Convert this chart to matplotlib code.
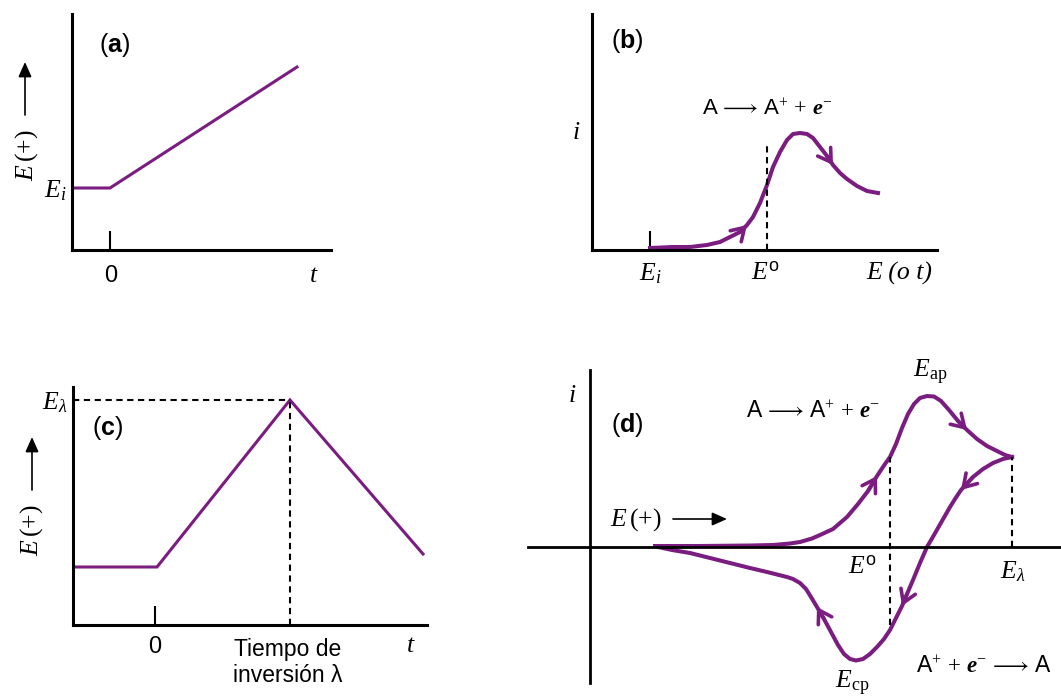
import matplotlib
matplotlib.use('Agg')
import matplotlib.pyplot as plt

# fuentes: E, i, t en serif italica; texto en sans
plt.rcParams['mathtext.fontset'] = 'custom'
plt.rcParams['mathtext.rm'] = 'Liberation Serif'
plt.rcParams['mathtext.it'] = 'Liberation Serif:italic'
plt.rcParams['mathtext.bf'] = 'Liberation Sans:bold'
plt.rcParams['mathtext.sf'] = 'Liberation Sans'
plt.rcParams['mathtext.bfit'] = 'Liberation Serif:italic:bold'
plt.rcParams['mathtext.fallback'] = 'stix'

W, H = 1061, 698
PURPLE = '#7b1c80'
SANS = 'Liberation Sans'
SERIF = 'Liberation Serif'

# (a) barrido lineal de potencial
t_a = [-3.8, 0, 18.7]
E_a = [6.2, 6.2, 18.3]

# (b) voltamperograma de barrido lineal
E_b = [5.8, 8.1, 9.8, 11.5, 12.8, 13.8, 14.8, 15.5, 16.1, 16.8, 17.5, 18.1,
       18.8, 19.5, 20.1, 20.8, 21.5, 22.1, 22.8, 23.5, 24.1, 24.8, 25.5, 26.5,
       27.5, 28.6]
i_b = [0.2, 0.3, 0.3, 0.5, 0.8, 1.3, 1.8, 2.5, 3.3, 4.7, 6.5, 8.3,
       9.8, 11.0, 11.6, 11.7, 11.6, 11.2, 10.3, 9.4, 8.5, 7.7, 7.1, 6.4,
       5.9, 5.7]
Ei_b = 5.8
E0_b = 17.5
arrows_b = [7, 20]

# (c) barrido triangular
t_c = [-8.2, 0.2, 13.5, 26.8]
E_c = [5.8, 5.8, 22.5, 7.1]
t_lambda = 13.5
E_lambda = 22.5

# (d) voltamperograma ciclico
E_fwd = [6.5, 11.0, 16.0, 18.3, 20.0, 21.0, 22.2, 23.0, 24.3, 25.7, 26.8,
         27.8, 28.7, 29.5, 30.0, 30.6, 31.2, 31.8, 32.4, 33.0, 33.7, 34.4,
         35.1, 35.9, 36.8, 37.7, 38.7, 39.7, 40.7, 41.5, 42.2]
i_fwd = [0.1, 0.1, 0.15, 0.2, 0.35, 0.5, 0.85, 1.2, 1.8, 3.0, 4.3,
         5.6, 7.1, 8.3, 9.0, 10.3, 11.9, 13.3, 14.3, 14.9, 15.1, 15.05,
         14.6, 13.7, 12.6, 11.7, 10.8, 10.1, 9.6, 9.2, 9.0]
E_rev = [42.2, 41.3, 40.3, 39.3, 38.3, 37.1, 36.5, 36.0, 35.2, 34.4, 33.7,
         33.0, 32.3, 31.7, 31.2, 30.6, 30.0, 29.4, 28.7, 28.0, 27.3, 26.6,
         26.0, 25.4, 24.8, 24.1, 23.4, 22.7, 22.1, 21.6, 21.0, 20.3, 19.7,
         17.7, 16.0, 14.0, 12.0, 10.0, 8.2, 6.8]
i_rev = [9.0, 8.8, 8.4, 7.8, 7.0, 5.7, 4.8, 4.0, 2.6, 1.2, 0.0,
         -1.6, -3.3, -4.7, -5.9, -7.1, -8.3, -9.2, -10.0, -10.7, -11.2, -11.35,
         -11.2, -10.7, -9.8, -8.5, -7.2, -6.0, -5.0, -4.2, -3.6, -3.2, -3.0,
         -2.5, -2.1, -1.6, -1.1, -0.6, -0.3, 0.0]
arrows_fwd = [12, 25]
arrows_rev = [5, 14, 27]
E0_d = 30.0
i_E0_top, i_E0_bot = 9.0, -7.8
Elam_d = 42.2

REACT_OX = r'$\mathsf{A}\,\longrightarrow\,\mathsf{A}^{+}\,+\,\mathbfit{e}^{-}$'
REACT_RED = r'$\mathsf{A}^{+}\,+\,\mathbfit{e}^{-}\,\longrightarrow\,\mathsf{A}$'

fig = plt.figure(figsize=(W / 100, H / 100), dpi=100)


def px_axes(x0, y0, x1, y1):
    ax = fig.add_axes([x0 / W, 1 - y1 / H, (x1 - x0) / W, (y1 - y0) / H])
    ax.patch.set_alpha(0)
    for s in ['top', 'right']:
        ax.spines[s].set_visible(False)
    for s in ['left', 'bottom']:
        ax.spines[s].set_linewidth(2.2)
    ax.set_yticks([])
    ax.set_xticks([])
    return ax


def label(x, y, s, size=18.5, **kw):
    kw.setdefault('ha', 'center')
    kw.setdefault('va', 'baseline')
    fig.text(x / W, 1 - y / H, s, fontsize=size, **kw)


def chevrons(ax, xs, ys, idx):
    for k in idx:
        ax.annotate('', xy=(xs[k], ys[k]), xytext=(xs[k - 1], ys[k - 1]),
                    arrowprops=dict(arrowstyle='->,head_length=0.45,head_width=0.28',
                                    color=PURPLE, lw=2.6, shrinkA=0, shrinkB=0,
                                    mutation_scale=20))


def y_arrow(x, y0, y1):
    fig.add_artist(matplotlib.patches.FancyArrowPatch(
        (x / W, 1 - y0 / H), (x / W, 1 - y1 / H), transform=fig.transFigure,
        arrowstyle='-|>,head_length=0.45,head_width=0.2', mutation_scale=20,
        color='black', lw=1.2, shrinkA=0, shrinkB=0))


# ---------- (a) ----------
ax = px_axes(72, 14, 331, 250)
ax.set_xlim(-3.8, 22.1)
ax.set_ylim(0, 23.6)
ax.plot(t_a, E_a, color=PURPLE, lw=2.2, solid_joinstyle='miter')
ax.set_xticks([0])
ax.tick_params(axis='x', direction='in', length=13.7, width=1.5, labelbottom=False)
label(115, 52, r'$\mathsf{(}\mathbf{a}\mathsf{)}$', size=18)
label(66, 197, r'$E_i$', ha='right')
label(111, 282, '0', size=17, family=SANS)
label(313, 282, 't', family=SERIF, style='italic')
label(27, 155, r'$E\,(+)$', rotation=90, va='center', rotation_mode='anchor')
y_arrow(25, 115, 62)

# ---------- (b) ----------
ax = px_axes(592, 14, 937, 250)
ax.set_xlim(0, 34.5)
ax.set_ylim(0, 23.6)
ax.plot(E_b, i_b, color=PURPLE, lw=2.9, solid_joinstyle='round')
chevrons(ax, E_b, i_b, arrows_b)
ax.plot([E0_b, E0_b], [0, 10.5], color='black', lw=1.5, ls=(0, (3.0, 2.2)))
ax.set_xticks([Ei_b])
ax.tick_params(axis='x', direction='in', length=13.7, width=1.5, labelbottom=False)
label(627, 48, r'$\mathsf{(}\mathbf{b}\mathsf{)}$', size=18)
label(767, 115, REACT_OX, size=16)
label(576, 139, 'i', family=SERIF, style='italic')
label(650, 280, r'$E_i$')
label(765, 280, r'$E^{\mathsf{o}}$')
label(899, 280, 'E (o t)', family=SERIF, style='italic')

# ---------- (c) ----------
ax = px_axes(73, 387, 427, 625)
ax.set_xlim(-8.2, 27.2)
ax.set_ylim(0, 23.8)
ax.plot(t_c, E_c, color=PURPLE, lw=2.2, solid_joinstyle='miter')
ax.plot([-8.2, t_lambda], [E_lambda, E_lambda], color='black', lw=1.5, ls=(0, (3.0, 2.2)))
ax.plot([t_lambda, t_lambda], [0, E_lambda], color='black', lw=1.5, ls=(0, (3.0, 2.2)))
ax.set_xticks([0])
ax.tick_params(axis='x', direction='in', length=13.7, width=1.5, labelbottom=False)
label(55, 409, r'$E_{\lambda}$')
label(108, 435, r'$\mathsf{(}\mathbf{c}\mathsf{)}$', size=18)
label(155, 653, '0', size=17, family=SANS)
label(410, 652, 't', family=SERIF, style='italic')
label(288, 656, 'Tiempo de', size=16.5, family=SANS)
label(288, 682, 'inversión λ', size=16.5, family=SANS)
label(32, 530, r'$E\,(+)$', rotation=90, va='center', rotation_mode='anchor')
y_arrow(32, 490, 437)

# ---------- (d) ----------
ax = px_axes(528, 370, 1061, 683)
ax.set_xlim(-6.2, 47.1)
ax.set_ylim(-13.6, 17.7)
ax.spines['left'].set_position(('data', 0))
ax.spines['bottom'].set_position(('data', 0))
ax.spines['left'].set_linewidth(2.0)
ax.spines['bottom'].set_linewidth(2.0)
ax.plot(E_fwd, i_fwd, color=PURPLE, lw=2.9, solid_joinstyle='round')
ax.plot(E_rev, i_rev, color=PURPLE, lw=2.9, solid_joinstyle='round')
chevrons(ax, E_fwd, i_fwd, arrows_fwd)
chevrons(ax, E_rev, i_rev, arrows_rev)
ax.plot([E0_d, E0_d], [i_E0_bot, i_E0_top], color='black', lw=1.5, ls=(0, (3.0, 2.2)))
ax.plot([Elam_d, Elam_d], [0, 9.0], color='black', lw=1.5, ls=(0, (3.0, 2.2)))
label(572, 402, 'i', family=SERIF, style='italic')
label(627, 432, r'$\mathsf{(}\mathbf{d}\mathsf{)}$', size=18)
label(813, 418, REACT_OX, size=16.5)
label(930, 377, r'$E_{\mathrm{ap}}$')
label(636, 526, r'$E\,(+)$')
ax.annotate('', xy=(727, H - 519), xytext=(673, H - 519), xycoords='figure pixels',
            arrowprops=dict(arrowstyle='-|>,head_length=0.45,head_width=0.2',
                            mutation_scale=20, color='black', lw=1.2,
                            shrinkA=0, shrinkB=0))
label(862, 574, r'$E^{\mathsf{o}}$')
label(1013, 578, r'$E_{\lambda}$')
label(984, 673, REACT_RED, size=16.5)
label(852, 688, r'$E_{\mathrm{cp}}$')

fig.savefig('out.png', dpi=100)
